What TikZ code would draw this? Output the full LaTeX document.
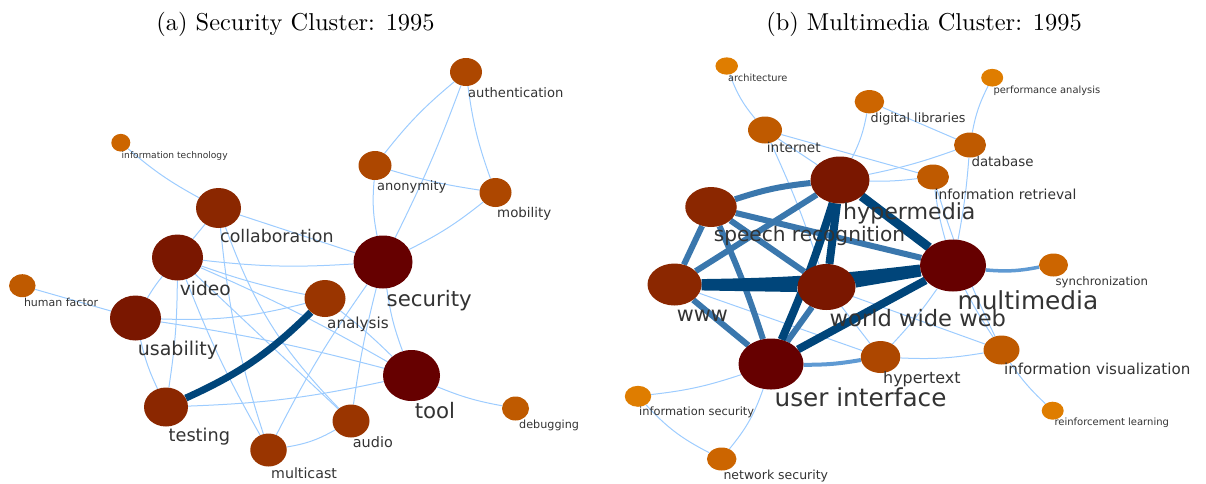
\documentclass[tikz,border=0pt]{standalone}
\usepackage{fontspec}
\newfontfamily\labfont{DejaVu Sans}
\newfontfamily\ttlfont[Extension=.otf]{lmroman10-regular}
\usetikzlibrary{shapes.geometric,backgrounds}
\definecolor{c0}{HTML}{660000}
\definecolor{c1}{HTML}{7A1700}
\definecolor{c2}{HTML}{8B2700}
\definecolor{c3}{HTML}{9A3500}
\definecolor{c4}{HTML}{AD4700}
\definecolor{c5}{HTML}{BF5A00}
\definecolor{c6}{HTML}{CC6500}
\definecolor{c7}{HTML}{DF7D00}
\definecolor{ltblue}{HTML}{9DCCFF}
\definecolor{mdblue}{HTML}{3A77AD}
\definecolor{mlblue}{HTML}{5F9AD3}
\definecolor{dkblue}{HTML}{00457A}
\definecolor{labgray}{HTML}{333333}
\begin{document}
\begin{tikzpicture}[x=1pt,y=-1pt,
  kw/.style n args={3}{ellipse, fill=#1, minimum width=#2, minimum height=#3, inner sep=0pt, draw=none},
  lab/.style={anchor=base west, inner sep=0pt, text=labgray, font=\labfont\fontsize{#1}{#1}\selectfont},
  ttl/.style={anchor=base, inner sep=0pt, font=\ttlfont\fontsize{24.4}{28}\selectfont},
  lt/.style={draw=ltblue, line width=1pt},
  ml/.style={draw=mlblue, line width=#1},
  md/.style={draw=mdblue, line width=#1},
  dk/.style={draw=dkblue, line width=#1},
]
\useasboundingbox (0,0) rectangle (1206,483);
% titles
\node[ttl] (ta) at (295.5,30) {(a) Security Cluster: 1995};
\node[ttl] (tb) at (924,30) {(b) Multimedia Cluster: 1995};

% ---------- left cluster nodes ----------
\node[kw={c0}{59pt}{53pt}] (sec) at (383,262) {};
\node[kw={c0}{57pt}{51pt}] (tool) at (411.5,375.5) {};
\node[kw={c1}{51pt}{46pt}] (video) at (177.5,257.5) {};
\node[kw={c1}{51pt}{45pt}] (usab) at (135.5,318) {};
\node[kw={c2}{45pt}{40pt}] (collab) at (218.5,208) {};
\node[kw={c2}{44pt}{39pt}] (test) at (166,407) {};
\node[kw={c3}{41pt}{37pt}] (anal) at (325,298.5) {};
\node[kw={c3}{37pt}{33pt}] (audio) at (351,421) {};
\node[kw={c3}{36.5pt}{33pt}] (mcast) at (268.5,450) {};
\node[kw={c4}{32pt}{28pt}] (auth) at (466,72) {};
\node[kw={c4}{33pt}{29pt}] (anon) at (375,165.5) {};
\node[kw={c4}{32pt}{29pt}] (mob) at (495.5,192.5) {};
\node[kw={c5}{27pt}{24pt}] (debug) at (515.5,408.5) {};
\node[kw={c5}{26.5pt}{23pt}] (human) at (22.3,285.7) {};
\node[kw={c6}{19pt}{17.7pt}] (itech) at (120.8,142.7) {};

% left labels
\node[lab=21.3] (l-sec) at (386.5,306.5) {security};
\node[lab=21.3] (l-tool) at (414.6,418) {tool};
\node[lab=18.7] (l-video) at (179.6,295.4) {video};
\node[lab=19.0] (l-usab) at (137.7,355.1) {usability};
\node[lab=17.4] (l-collab) at (220,242) {collaboration};
\node[lab=17.7] (l-test) at (168.5,441.5) {testing};
\node[lab=15.2] (l-anal) at (327,328.8) {analysis};
\node[lab=14.4] (l-audio) at (352.7,447.9) {audio};
\node[lab=14.2] (l-mcast) at (271,478.1) {multicast};
\node[lab=13.0] (l-anon) at (377,190.2) {anonymity};
\node[lab=13.4] (l-mob) at (497,217.3) {mobility};
\node[lab=13.1] (l-auth) at (468,97.2) {authentication};
\node[lab=11.2] (l-debug) at (519,428.3) {debugging};
\node[lab=11.0] (l-human) at (23.8,306.3) {human factor};
\node[lab=9.1] (l-itech) at (121.5,158.8) {information technology};

% ---------- right cluster nodes ----------
\node[kw={c0}{66pt}{52pt}] (mm) at (953,265.5) {};
\node[kw={c0}{65pt}{51pt}] (ui) at (771,364) {};
\node[kw={c1}{59pt}{47pt}] (hm) at (840,180) {};
\node[kw={c1}{58pt}{46pt}] (wwweb) at (826.5,287) {};
\node[kw={c2}{54pt}{42pt}] (www) at (674.5,284.5) {};
\node[kw={c2}{51.5pt}{40pt}] (sr) at (711,207) {};
\node[kw={c4}{39.5pt}{32pt}] (htext) at (880.5,357) {};
\node[kw={c5}{36pt}{29pt}] (ivis) at (1001.5,350) {};
\node[kw={c5}{34pt}{27pt}] (inet) at (765,130) {};
\node[kw={c5}{32pt}{25pt}] (db) at (970,145) {};
\node[kw={c5}{32pt}{25pt}] (ir) at (933,177) {};
\node[kw={c6}{29pt}{23pt}] (sync) at (1053.5,265) {};
\node[kw={c6}{29.5pt}{23pt}] (nsec) at (721.7,459) {};
\node[kw={c6}{29.5pt}{23.3pt}] (dl) at (869.4,101.7) {};
\node[kw={c7}{26.4pt}{21pt}] (isec) at (638,396.3) {};
\node[kw={c7}{22.5pt}{17.3pt}] (arch) at (726.7,66) {};
\node[kw={c7}{22pt}{17.7pt}] (perf) at (992.2,77.7) {};
\node[kw={c7}{22pt}{18pt}] (rl) at (1052.7,410.7) {};

% right labels
\node[lab=9.8] (l-arch) at (727.9,81.7) {architecture};
\node[lab=9.9] (l-perf) at (993.4,93.7) {performance analysis};
\node[lab=12.7] (l-dl) at (870.5,122.1) {digital libraries};
\node[lab=13.6] (l-inet) at (766.7,152.7) {internet};
\node[lab=13.4] (l-db) at (971.3,166.6) {database};
\node[lab=13.8] (l-ir) at (934.5,199) {information retrieval};
\node[lab=22.1] (l-hm) at (843,219.3) {hypermedia};
\node[lab=20.1] (l-sr) at (713.6,241.4) {speech recognition};
\node[lab=24.8] (l-mm) at (957.4,309.4) {multimedia};
\node[lab=11.7] (l-sync) at (1055.4,285.9) {synchronization};
\node[lab=20.8] (l-www) at (676.7,321.6) {www};
\node[lab=22.6] (l-wwweb) at (829.5,326.1) {world wide web};
\node[lab=24.7] (l-ui) at (774.4,406.7) {user interface};
\node[lab=15.9] (l-htext) at (883,383.6) {hypertext};
\node[lab=15.1] (l-ivis) at (1003.9,374.8) {information visualization};
\node[lab=10.0] (l-rl) at (1054.3,425.7) {reinforcement learning};
\node[lab=11.4] (l-isec) at (639,415.1) {information security};
\node[lab=12.5] (l-nsec) at (723.3,479.1) {network security};

\begin{pgfonlayer}{background}
% left edges
\draw[lt] (itech) to[bend right=6] (collab);
\draw[lt] (auth) to[bend right=6] (anon);
\draw[lt] (auth) to[bend left=3] (sec);
\draw[lt] (auth) to[bend right=6] (mob);
\draw[lt] (anon) to[bend right=4] (mob);
\draw[lt] (anon) to[bend right=8] (sec);
\draw[lt] (mob) to[bend left=6] (sec);
\draw[lt] (collab) -- (sec);
\draw[lt] (collab) -- (video);
\draw[lt] (collab) to[bend right=6] (mcast);
\draw[lt] (collab) to[bend right=12] (audio);
\draw[lt] (video) to[bend right=5] (sec);
\draw[lt] (video) to[bend right=4] (anal);
\draw[lt] (video) to[bend left=3] (tool);
\draw[lt] (video) -- (audio);
\draw[lt] (video) to[bend right=4] (usab);
\draw[lt] (video) to[bend left=4] (test);
\draw[lt] (video) to[bend right=4] (mcast);
\draw[lt] (usab) to[bend right=8] (anal);
\draw[lt] (usab) to[bend left=3] (tool);
\draw[lt] (usab) to[bend right=6] (test);
\draw[lt] (usab) -- (human);
\draw[lt] (test) to[bend right=5] (tool);
\draw[lt] (anal) to[bend left=3] (tool);
\draw[lt] (sec) to[bend right=4] (mcast);
\draw[lt] (sec) to[bend right=3] (audio);
\draw[lt] (sec) to[bend right=6] (tool);
\draw[lt] (mcast) to[bend right=10] (audio);
\draw[lt] (tool) to[bend right=6] (debug);
\draw[dk=7pt] (test) to[bend right=10] (anal);

% right edges
\draw[lt] (arch) to[bend right=10] (inet);
\draw[lt] (inet) -- (hm);
\draw[lt] (inet) -- (ir);
\draw[lt] (inet) to[bend left=3] (wwweb);
\draw[lt] (dl) to[bend left=8] (hm);
\draw[lt] (dl) -- (db);
\draw[lt] (perf) to[bend right=8] (db);
\draw[lt] (db) to[bend left=4] (hm);
\draw[lt] (db) to[bend left=3] (mm);
\draw[lt] (hm) to[bend right=4] (ir);
\draw[lt] (ir) to[bend right=4] (mm);
\draw[lt] (ir) to[bend right=4] (ivis);
\draw[lt] (mm) to[bend right=3] (ivis);
\draw[lt] (mm) to[bend left=4] (htext);
\draw[lt] (ivis) to[bend right=6] (rl);
\draw[lt] (wwweb) -- (htext);
\draw[lt] (wwweb) -- (ivis);
\draw[lt] (www) -- (htext);
\draw[lt] (htext) to[bend right=6] (ivis);
\draw[lt] (ui) to[bend left=6] (isec);
\draw[lt] (ui) to[bend left=10] (nsec);
\draw[lt] (isec) to[bend right=10] (nsec);
\draw[ml=3.5pt] (mm) to[bend right=8] (sync);
\draw[ml=4pt] (ui) to[bend right=5] (htext);
\draw[md=6pt] (sr) to[bend left=6] (hm);
\draw[md=6pt] (sr) -- (www);
\draw[md=6pt] (sr) -- (wwweb);
\draw[md=6pt] (sr) -- (mm);
\draw[md=6pt] (sr) to[bend left=3] (ui);
\draw[md=6pt] (hm) -- (www);
\draw[md=6pt] (www) -- (ui);
\draw[md=6pt] (wwweb) -- (ui);
\draw[dk=8pt] (hm) -- (wwweb);
\draw[dk=8pt] (hm) to[bend left=3] (ui);
\draw[dk=9pt] (hm) -- (mm);
\draw[dk=11pt] (www) -- (wwweb);
\draw[dk=10pt] (www) to[bend right=3] (mm);
\draw[dk=11pt] (wwweb) -- (mm);
\draw[dk=8pt] (ui) -- (mm);
\end{pgfonlayer}
\end{tikzpicture}
\end{document}
